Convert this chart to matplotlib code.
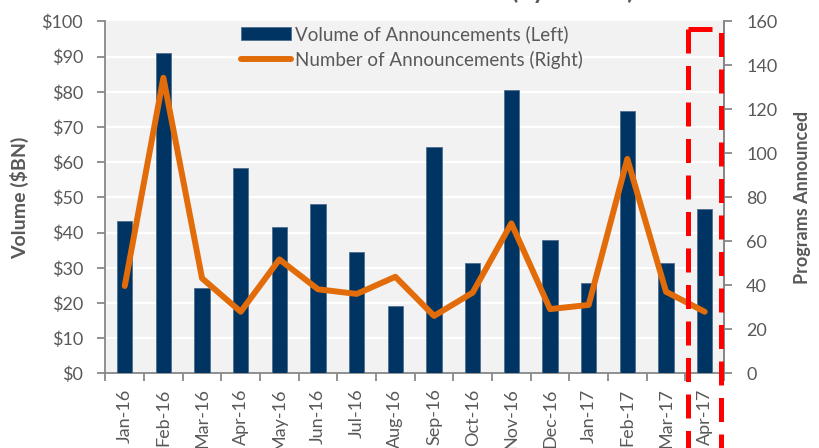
import matplotlib
matplotlib.use("Agg")
import matplotlib.pyplot as plt
import numpy as np
from matplotlib.lines import Line2D

months = ["Jan-16", "Feb-16", "Mar-16", "Apr-16", "May-16", "Jun-16", "Jul-16", "Aug-16",
          "Sep-16", "Oct-16", "Nov-16", "Dec-16", "Jan-17", "Feb-17", "Mar-17", "Apr-17"]
volume = [43.4, 91.0, 24.3, 58.3, 41.7, 48.1, 34.4, 19.2,
          64.4, 31.4, 80.5, 37.9, 25.6, 74.6, 31.4, 46.7]
programs = [39.7, 134.4, 43.2, 28.0, 51.8, 38.2, 36.1, 43.9,
            26.1, 36.7, 68.2, 29.2, 31.1, 97.5, 37.1, 28.0]
left_ticks = list(range(0, 101, 10))
left_ticklabels = ["$" + str(v) for v in left_ticks]
right_ticks = list(range(0, 161, 20))

plt.rcParams['font.family'] = ['Lato', 'DejaVu Sans']
GRAY = "#595959"
SPINE = "#888888"
NAVY = "#003462"
ORANGE = "#E36C0A"

fig = plt.figure(figsize=(8.19, 4.48), dpi=100)
ax = fig.add_axes([105.4/819, 1 - 373.3/448, (724 - 105.4)/819, (373.3 - 21.5)/448])
ax.set_facecolor("#f2f2f2")

x = np.arange(len(months))
ax.bar(x, volume, width=0.4, color=NAVY, edgecolor="#4f6f8f", linewidth=0.6, zorder=3,
       label="Volume of Announcements (Left)")
ax.set_xlim(-0.5, len(months) - 0.5)
ax.set_ylim(0, 100)
ax.set_yticks(left_ticks)
ax.set_yticklabels(left_ticklabels)
for v in left_ticks[1:-1]:
    ax.axhline(v, color="white", lw=1.6, zorder=1)

ax.set_xticks(x)
ax.set_xticklabels(months, rotation=90)
ax.set_xticks(np.arange(-0.5, len(months), 1.0), minor=True)
ax.tick_params(axis='x', which='major', length=0, pad=11, labelsize=13, colors=GRAY)
ax.tick_params(axis='x', which='minor', length=6, width=1.3, color=SPINE)
ax.tick_params(axis='y', length=6, width=1.3, color=SPINE, labelcolor=GRAY, labelsize=13, pad=10)

ax.spines['top'].set_visible(False)
for s in ['left', 'right', 'bottom']:
    ax.spines[s].set_color(SPINE)
    ax.spines[s].set_linewidth(1.3)
ax.set_ylabel("Volume ($BN)", fontsize=14, fontweight='bold', color=GRAY, labelpad=9)

ax2 = ax.twinx()
ax2.plot(x, programs, color=ORANGE, lw=4.3, solid_capstyle='round', solid_joinstyle='round',
         zorder=4, label="Number of Announcements (Right)")
ax2.set_ylim(0, 160)
ax2.set_yticks(right_ticks)
ax2.tick_params(axis='y', length=6, width=1.3, color=SPINE, labelcolor=GRAY, labelsize=13, pad=10)
for s in ['top', 'left', 'bottom']:
    ax2.spines[s].set_visible(False)
ax2.spines['right'].set_color(SPINE)
ax2.spines['right'].set_linewidth(1.3)
ax2.set_ylabel("Programs Announced", fontsize=13, fontweight='bold', color=GRAY, labelpad=12)

h1, l1 = ax.get_legend_handles_labels()
h2, l2 = ax2.get_legend_handles_labels()
leg = ax2.legend(h1 + h2, l1 + l2, loc='upper left', bbox_to_anchor=(0.219, 0.99),
                 frameon=False, fontsize=13.5, handlelength=2.7, handletextpad=0.2,
                 labelspacing=0.42, borderpad=0, borderaxespad=0)
for t in leg.get_texts():
    t.set_color(GRAY)

# red dashed highlight box around the latest month
ls = (0, (4.8, 2.5))
box_x0, box_x1, box_top, box_bot = 14.56, 15.43, 97.9, -40
ax2.add_line(Line2D([box_x0, box_x1, box_x1], [box_top, box_top, box_bot], color="#ff0000",
                    lw=3.6, linestyle=ls, clip_on=False, zorder=10, transform=ax.transData))
ax2.add_line(Line2D([box_x0, box_x0], [box_top, box_bot], color="#ff0000",
                    lw=3.6, linestyle=ls, clip_on=False, zorder=10, transform=ax.transData))

fig.text(634/819, 1.0016, "Share Announcements (by Month)", ha='right', va='baseline',
         fontsize=18, fontweight='bold', color=GRAY)

fig.savefig("out.png", dpi=100)
